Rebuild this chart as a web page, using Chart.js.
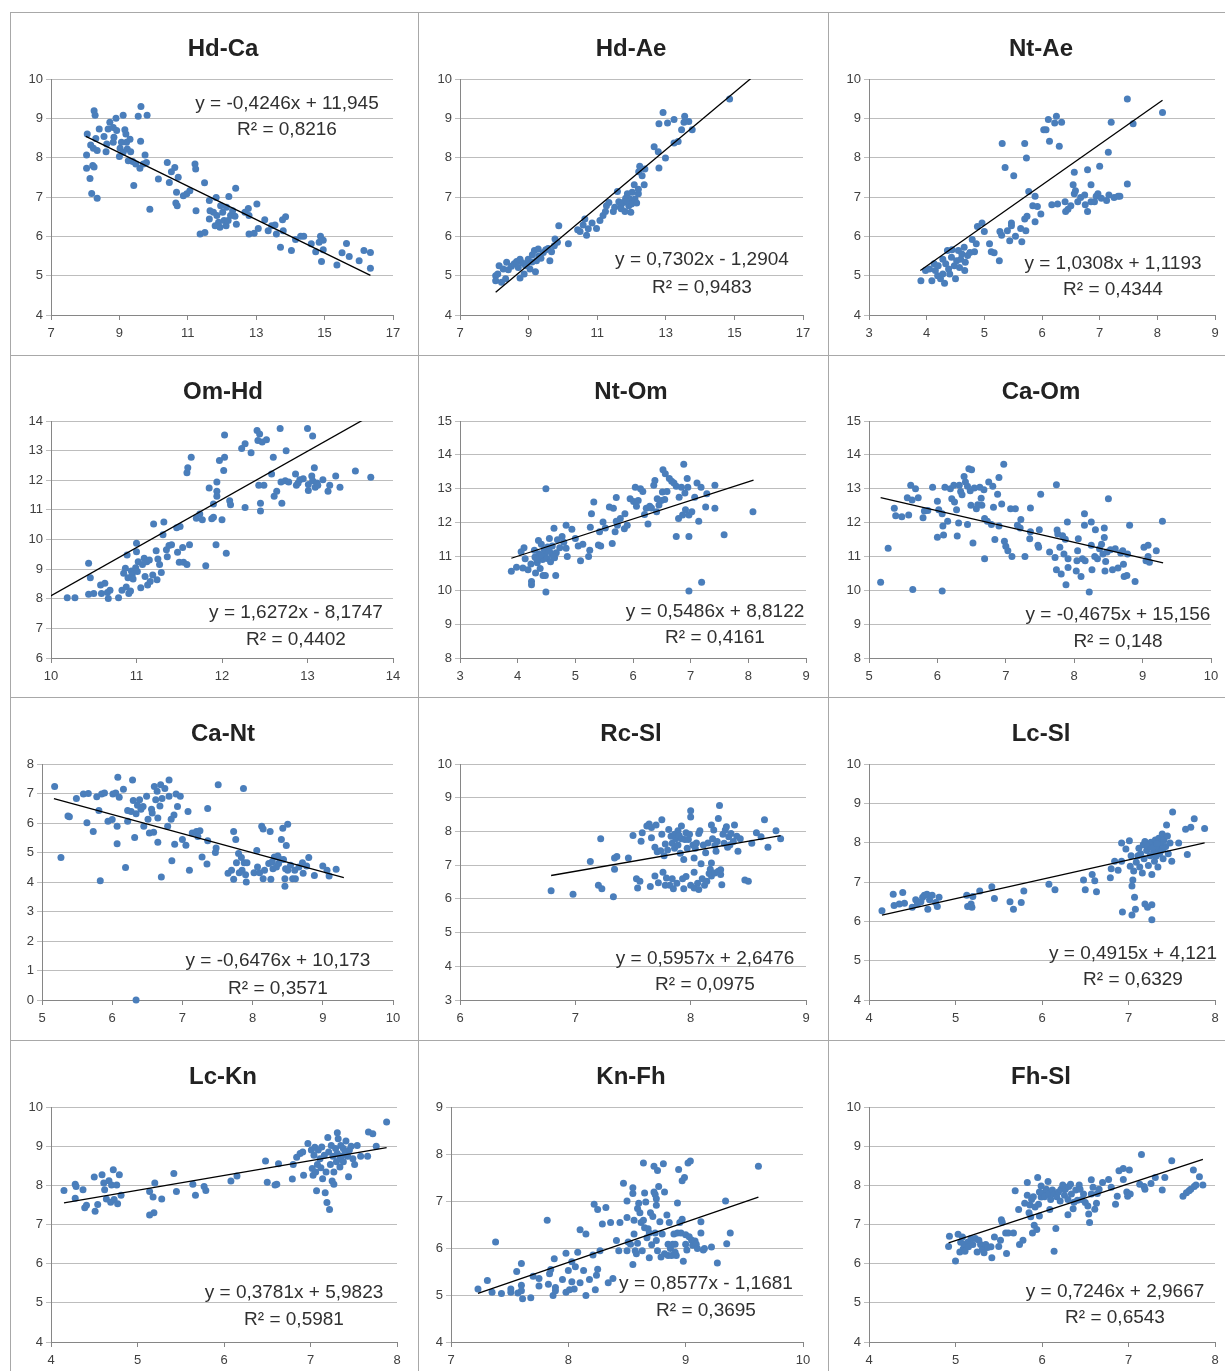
<!DOCTYPE html>
<html>
<head>
<meta charset="utf-8">
<script src="https://cdn.jsdelivr.net/npm/chart.js@4.4.1/dist/chart.umd.min.js"></script>
<style>
  body { margin: 0; background: #fff; width: 1225px; height: 1371px; overflow: hidden; position: relative; }
  canvas { position: absolute; }
  .ln { position: absolute; background: #a8a8a8; }
</style>
</head>
<body>
<script>
// ---- data: [x, y] pairs per panel ----
const hdCa = [[8.26,9.19],[8.29,9.08],[8.06,8.60],[8.04,8.07],[8.04,7.73],[8.14,7.47],[8.22,7.80],[8.26,7.76],[8.19,7.09],[8.35,6.97],[8.16,8.32],[8.24,8.24],[8.35,8.18],[8.31,8.49],[8.41,8.73],[8.55,8.54],[8.63,8.35],[8.61,8.15],[8.67,8.73],[8.72,8.90],[8.82,8.77],[8.90,9.00],[8.84,8.52],[8.82,8.39],[8.92,8.69],[9.02,8.24],[9.00,8.03],[9.11,9.08],[9.16,8.71],[9.19,8.60],[9.21,8.39],[9.23,8.22],[9.26,7.92],[9.31,8.47],[9.33,8.15],[9.39,7.90],[9.42,7.29],[9.55,9.05],[9.63,9.30],[9.62,8.42],[9.60,7.73],[9.70,7.84],[9.75,8.07],[9.79,7.88],[9.81,9.08],[9.89,6.69],[9.11,8.14],[9.06,8.39],[9.48,7.84],[10.14,7.46],[10.40,7.88],[10.46,7.37],[10.52,7.64],[10.62,7.75],[10.72,7.50],[10.67,7.12],[10.65,6.85],[10.69,6.78],[10.87,7.03],[10.97,7.08],[11.06,7.16],[11.21,7.84],[11.23,7.71],[11.24,6.65],[11.36,6.06],[11.50,6.10],[11.49,7.36],[11.63,6.91],[11.65,6.65],[11.63,6.44],[11.75,6.61],[11.83,6.99],[11.85,6.53],[11.90,6.36],[11.96,6.78],[12.02,6.61],[12.06,6.40],[12.12,6.27],[12.13,6.74],[12.20,7.01],[12.25,6.53],[12.31,6.65],[12.38,6.51],[12.40,7.22],[12.42,6.31],[11.80,6.27],[11.94,6.23],[12.18,6.40],[12.67,6.61],[12.77,6.71],[12.79,6.53],[12.79,6.06],[12.94,6.08],[13.02,6.82],[13.06,6.20],[13.25,6.42],[13.35,6.14],[13.45,6.27],[13.55,6.29],[13.59,6.06],[13.71,5.72],[13.77,6.42],[13.86,6.50],[13.79,6.14],[14.03,5.64],[14.15,5.92],[14.30,6.00],[14.39,6.00],[14.61,5.81],[14.74,5.61],[14.88,6.00],[14.84,5.85],[14.91,5.36],[14.96,5.90],[14.96,5.66],[15.36,5.27],[15.51,5.58],[15.64,5.82],[15.72,5.49],[16.01,5.38],[16.15,5.64],[16.34,5.59],[16.34,5.19]];

const hdAe = [[8.04,5.00],[8.04,4.87],[8.10,5.04],[8.14,5.25],[8.21,4.83],[8.26,5.17],[8.33,4.92],[8.36,5.34],[8.41,5.15],[8.50,5.24],[8.58,5.30],[8.65,5.36],[8.70,5.21],[8.75,5.42],[8.75,4.94],[8.82,5.32],[8.87,5.04],[8.91,5.25],[8.99,5.42],[9.04,5.17],[9.11,5.53],[9.17,5.64],[9.20,5.10],[9.23,5.38],[9.28,5.68],[9.36,5.44],[9.43,5.59],[9.50,5.66],[9.57,5.69],[9.62,5.38],[9.67,5.61],[9.75,5.76],[9.77,5.93],[9.84,5.85],[9.88,6.27],[10.16,5.81],[10.43,6.17],[10.50,6.12],[10.59,6.29],[10.64,6.44],[10.69,6.03],[10.74,6.19],[10.85,6.34],[10.98,6.20],[11.08,6.40],[11.17,6.53],[11.24,6.63],[11.27,6.78],[11.34,6.86],[11.47,6.63],[11.51,6.74],[11.59,7.14],[11.63,6.88],[11.69,6.78],[11.76,6.86],[11.81,6.63],[11.83,6.97],[11.88,7.08],[11.92,6.78],[11.95,6.95],[12.00,6.82],[12.02,7.12],[12.08,7.31],[12.10,6.95],[12.15,6.85],[12.20,7.08],[12.21,7.64],[12.24,7.78],[12.31,7.54],[12.37,7.31],[12.39,7.71],[12.66,8.28],[12.78,8.15],[12.80,8.86],[12.80,7.74],[12.92,9.15],[12.99,7.99],[13.05,8.88],[13.24,8.97],[13.24,8.37],[13.36,8.41],[13.46,8.71],[13.55,9.05],[13.53,8.90],[13.67,8.92],[13.77,8.71],[14.86,9.49],[11.98,6.61],[12.20,7.20],[9.30,5.50],[9.10,5.35],[8.95,5.30],[11.70,6.70],[11.85,6.90]];

const ntAe = [[3.90,4.87],[3.98,5.13],[4.05,5.17],[4.09,4.87],[4.13,5.30],[4.15,5.13],[4.19,5.00],[4.20,5.25],[4.24,4.92],[4.28,5.42],[4.28,5.04],[4.31,4.81],[4.33,5.30],[4.36,5.64],[4.38,5.17],[4.40,5.04],[4.43,5.47],[4.44,5.66],[4.48,5.25],[4.50,4.92],[4.52,5.38],[4.55,5.64],[4.57,5.21],[4.59,5.42],[4.61,5.55],[4.65,5.72],[4.66,5.13],[4.67,5.34],[4.71,5.51],[4.75,5.59],[4.79,5.92],[4.83,5.61],[4.86,5.81],[4.88,6.25],[4.96,6.34],[5.00,6.12],[5.09,5.81],[5.12,5.61],[5.17,5.58],[5.26,5.38],[5.27,6.12],[5.30,6.03],[5.31,8.36],[5.36,7.75],[5.40,6.14],[5.44,5.89],[5.47,6.34],[5.47,6.27],[5.51,7.54],[5.54,6.00],[5.63,6.20],[5.65,5.86],[5.70,6.44],[5.70,8.36],[5.72,6.14],[5.73,7.99],[5.74,6.51],[5.77,7.14],[5.84,6.78],[5.88,7.02],[5.88,6.37],[5.92,6.76],[5.98,6.57],[6.03,8.71],[6.07,8.71],[6.11,8.97],[6.13,8.42],[6.17,6.80],[6.22,8.88],[6.25,9.05],[6.27,6.82],[6.30,8.29],[6.34,8.90],[6.40,6.88],[6.41,6.63],[6.45,6.69],[6.50,6.78],[6.54,7.31],[6.56,7.63],[6.56,7.08],[6.58,7.16],[6.62,6.88],[6.67,6.99],[6.74,7.05],[6.75,6.80],[6.79,7.69],[6.79,6.63],[6.85,6.88],[6.85,7.31],[6.91,6.88],[6.94,7.02],[6.97,7.08],[7.00,7.78],[7.03,6.97],[7.12,6.91],[7.15,8.14],[7.16,7.05],[7.20,8.90],[7.25,6.99],[7.32,7.02],[7.35,7.02],[7.48,9.49],[7.48,7.33],[7.58,8.86],[8.09,9.15]];

const omHd = [[10.19,8.03],[10.28,8.03],[10.44,9.20],[10.46,8.71],[10.44,8.15],[10.50,8.18],[10.58,8.46],[10.63,8.52],[10.59,8.18],[10.66,8.21],[10.67,8.01],[10.69,8.29],[10.79,8.03],[10.83,8.29],[10.85,8.86],[10.87,9.03],[10.88,8.40],[10.89,9.48],[10.90,8.71],[10.91,8.18],[10.93,8.26],[10.94,8.94],[10.95,8.81],[10.96,8.67],[10.99,9.05],[11.00,9.59],[11.00,9.87],[11.01,8.92],[11.02,9.25],[11.05,8.37],[11.07,9.16],[11.09,9.37],[11.10,8.75],[11.12,9.25],[11.13,8.46],[11.15,9.31],[11.16,8.58],[11.19,8.80],[11.20,10.52],[11.23,9.62],[11.24,8.64],[11.25,9.34],[11.27,9.16],[11.29,8.89],[11.31,10.16],[11.32,10.59],[11.35,9.65],[11.36,9.42],[11.38,9.80],[11.41,9.82],[11.47,10.40],[11.48,9.57],[11.50,9.23],[11.51,10.44],[11.54,9.73],[11.55,9.23],[11.59,12.25],[11.59,9.16],[11.60,12.42],[11.62,9.82],[11.64,12.78],[11.70,10.72],[11.74,10.86],[11.77,10.67],[11.81,9.11],[11.85,11.74],[11.88,10.70],[11.90,10.75],[11.90,11.20],[11.93,9.82],[11.94,11.94],[11.94,11.63],[11.94,11.46],[11.97,12.67],[12.00,10.67],[12.02,12.33],[12.03,13.53],[12.03,12.78],[12.05,9.54],[12.09,11.31],[12.10,11.17],[12.23,13.07],[12.27,13.23],[12.27,11.08],[12.34,12.93],[12.41,13.68],[12.42,13.34],[12.44,13.56],[12.45,11.22],[12.45,10.96],[12.43,11.83],[12.47,13.29],[12.49,11.83],[12.52,13.37],[12.58,12.21],[12.60,12.78],[12.61,11.46],[12.64,11.63],[12.68,13.75],[12.69,11.94],[12.70,11.22],[12.74,11.98],[12.75,13.00],[12.78,11.94],[12.86,12.21],[12.87,11.83],[12.89,11.91],[12.91,12.02],[12.95,12.05],[13.00,13.75],[13.01,11.86],[13.01,11.65],[13.05,12.14],[13.06,13.49],[13.06,11.98],[13.08,12.42],[13.09,11.76],[13.11,11.91],[13.12,11.83],[13.18,12.02],[13.24,11.63],[13.26,11.83],[13.33,12.14],[13.38,11.76],[13.56,12.31],[13.74,12.10]];

const ntOm = [[3.89,10.56],[3.98,10.68],[4.06,11.14],[4.11,11.26],[4.09,10.66],[4.13,10.93],[4.18,10.61],[4.23,10.78],[4.24,10.26],[4.24,10.16],[4.29,11.18],[4.30,10.98],[4.31,10.51],[4.34,10.81],[4.36,11.47],[4.37,11.08],[4.39,10.64],[4.41,11.36],[4.43,10.91],[4.44,10.44],[4.46,11.21],[4.47,11.08],[4.48,10.44],[4.49,13.00],[4.49,9.95],[4.51,10.94],[4.52,11.28],[4.55,11.53],[4.57,10.84],[4.59,11.08],[4.60,11.31],[4.63,11.83],[4.64,10.96],[4.66,10.44],[4.67,11.11],[4.69,11.49],[4.73,11.26],[4.77,11.59],[4.80,11.42],[4.84,11.92],[4.84,11.24],[4.86,11.00],[4.94,11.80],[5.00,11.53],[5.05,11.31],[5.09,10.87],[5.13,11.36],[5.23,11.00],[5.25,11.18],[5.26,11.86],[5.28,12.26],[5.32,12.61],[5.40,11.34],[5.42,11.73],[5.44,11.31],[5.48,12.02],[5.52,11.84],[5.59,12.46],[5.64,11.38],[5.66,12.42],[5.69,11.73],[5.71,12.04],[5.71,12.74],[5.73,11.92],[5.78,12.12],[5.85,11.82],[5.86,12.26],[5.90,11.92],[5.95,12.70],[6.01,12.62],[6.04,13.04],[6.06,12.48],[6.09,12.65],[6.13,13.00],[6.17,12.92],[6.20,12.24],[6.23,12.42],[6.26,11.96],[6.29,12.48],[6.32,12.43],[6.36,13.10],[6.38,13.24],[6.41,12.32],[6.42,12.70],[6.45,12.52],[6.49,12.65],[6.51,12.90],[6.52,13.56],[6.55,12.68],[6.56,13.44],[6.59,12.92],[6.63,13.30],[6.67,13.22],[6.71,13.17],[6.75,13.07],[6.75,11.59],[6.79,12.12],[6.80,12.75],[6.84,13.04],[6.86,12.22],[6.88,13.72],[6.90,12.87],[6.91,12.38],[6.94,13.30],[6.95,13.04],[6.97,12.22],[6.97,9.98],[6.97,11.59],[7.02,12.32],[7.07,12.75],[7.11,13.17],[7.14,12.04],[7.18,13.04],[7.19,10.24],[7.26,12.46],[7.28,12.85],[7.42,13.10],[7.42,12.42],[7.58,11.64],[8.08,12.32],[4.40,11.05],[4.55,11.15],[4.62,11.00],[4.33,10.92]];

const caOm = [[5.17,10.24],[5.28,11.24],[5.37,12.42],[5.39,12.20],[5.48,12.17],[5.56,12.73],[5.58,12.22],[5.61,13.10],[5.63,12.67],[5.64,10.02],[5.68,13.00],[5.72,12.73],[5.79,12.14],[5.81,12.34],[5.86,12.36],[5.93,13.04],[6.00,12.63],[6.00,11.57],[6.02,12.38],[6.07,12.26],[6.07,9.98],[6.08,11.90],[6.09,11.63],[6.11,13.04],[6.15,12.04],[6.19,13.00],[6.21,12.70],[6.24,13.10],[6.25,12.61],[6.28,12.38],[6.29,11.60],[6.31,11.99],[6.32,13.10],[6.34,12.92],[6.36,12.82],[6.39,13.36],[6.41,13.20],[6.44,13.07],[6.44,11.94],[6.46,13.59],[6.48,12.94],[6.50,13.56],[6.49,12.51],[6.52,11.40],[6.54,13.02],[6.57,12.41],[6.59,12.53],[6.62,13.04],[6.64,12.72],[6.65,12.51],[6.68,12.97],[6.69,12.12],[6.69,10.93],[6.73,12.04],[6.75,13.20],[6.79,11.94],[6.81,13.07],[6.82,12.45],[6.84,11.50],[6.88,12.84],[6.90,13.33],[6.90,11.90],[6.94,12.55],[6.97,13.72],[6.98,11.45],[7.00,11.30],[7.03,11.17],[7.07,12.41],[7.09,11.00],[7.14,12.41],[7.17,11.92],[7.21,11.84],[7.22,12.09],[7.28,11.00],[7.35,11.52],[7.36,12.43],[7.36,11.73],[7.47,11.33],[7.48,11.27],[7.49,11.79],[7.51,12.84],[7.64,11.13],[7.72,10.97],[7.74,13.12],[7.74,10.61],[7.75,11.78],[7.76,11.66],[7.79,11.27],[7.81,10.48],[7.83,11.61],[7.85,11.07],[7.87,11.51],[7.88,10.16],[7.90,12.02],[7.91,10.93],[7.91,10.67],[8.03,10.57],[8.04,10.87],[8.05,11.17],[8.06,11.52],[8.10,10.41],[8.12,10.93],[8.15,12.26],[8.15,11.92],[8.16,10.87],[8.22,9.95],[8.25,12.02],[8.25,11.33],[8.26,10.61],[8.30,11.00],[8.31,11.79],[8.34,10.93],[8.37,11.23],[8.40,11.36],[8.42,11.07],[8.44,11.84],[8.44,11.56],[8.45,10.57],[8.46,10.85],[8.48,11.13],[8.50,12.70],[8.53,11.20],[8.56,10.61],[8.60,11.23],[8.64,10.66],[8.68,11.10],[8.71,11.17],[8.72,10.77],[8.73,10.41],[8.77,10.44],[8.78,11.07],[8.81,11.92],[8.89,10.26],[9.02,11.27],[9.05,10.87],[9.08,11.33],[9.08,11.00],[9.10,10.83],[9.20,11.17],[9.29,12.04]];

const caNt = [[5.18,7.24],[5.27,4.83],[5.37,6.24],[5.39,6.21],[5.49,6.83],[5.59,6.98],[5.64,6.01],[5.66,7.00],[5.73,5.71],[5.78,6.89],[5.81,6.42],[5.83,4.04],[5.85,6.98],[5.89,7.02],[5.94,6.06],[6.00,6.12],[6.01,6.98],[6.05,7.02],[6.07,5.89],[6.07,5.30],[6.08,7.55],[6.10,6.87],[6.16,7.14],[6.19,4.49],[6.22,6.06],[6.22,6.42],[6.27,6.39],[6.29,7.46],[6.30,6.76],[6.32,5.51],[6.34,0.00],[6.34,6.31],[6.36,6.60],[6.39,6.79],[6.41,6.47],[6.44,6.56],[6.45,5.89],[6.49,6.91],[6.51,6.13],[6.53,5.66],[6.56,6.47],[6.57,6.34],[6.59,5.69],[6.60,7.24],[6.62,6.79],[6.64,7.08],[6.65,5.35],[6.65,6.17],[6.68,6.58],[6.69,7.30],[6.70,4.17],[6.71,6.83],[6.75,7.17],[6.79,5.89],[6.81,7.46],[6.81,6.91],[6.84,6.13],[6.85,4.72],[6.88,6.27],[6.89,5.28],[6.91,6.98],[6.93,6.56],[6.97,6.91],[7.00,5.44],[7.05,5.25],[7.08,6.39],[7.10,4.40],[7.14,5.66],[7.20,5.71],[7.22,5.54],[7.25,5.74],[7.28,4.85],[7.35,4.61],[7.36,6.49],[7.36,5.40],[7.47,5.00],[7.48,5.15],[7.51,7.30],[7.65,4.30],[7.70,4.40],[7.73,4.09],[7.73,5.71],[7.76,5.44],[7.77,4.65],[7.80,4.97],[7.81,4.31],[7.84,4.83],[7.85,4.40],[7.87,7.17],[7.88,4.65],[7.90,4.25],[7.91,4.00],[7.92,4.65],[8.02,4.31],[8.06,5.07],[8.07,4.51],[8.10,4.31],[8.13,5.89],[8.15,5.80],[8.15,4.11],[8.17,4.40],[8.23,4.63],[8.25,5.71],[8.26,4.09],[8.28,4.69],[8.29,4.45],[8.31,4.85],[8.34,4.51],[8.36,4.88],[8.37,4.63],[8.39,4.76],[8.41,5.44],[8.43,5.82],[8.44,4.76],[8.46,4.11],[8.46,3.86],[8.47,4.45],[8.48,5.24],[8.50,5.96],[8.50,4.40],[8.54,4.57],[8.57,4.11],[8.60,4.40],[8.61,4.11],[8.66,4.51],[8.71,4.65],[8.72,4.30],[8.77,4.54],[8.80,4.83],[8.88,4.22],[9.00,4.54],[9.06,4.40],[9.09,4.20],[9.19,4.43]];

const rcSl = [[6.79,6.24],[6.98,6.14],[7.13,7.11],[7.20,6.40],[7.22,7.78],[7.23,6.30],[7.33,6.06],[7.34,6.88],[7.34,7.21],[7.36,7.26],[7.46,7.21],[7.50,7.88],[7.53,6.60],[7.54,6.32],[7.56,6.52],[7.57,7.71],[7.58,7.96],[7.62,8.16],[7.64,8.22],[7.65,6.37],[7.66,7.81],[7.66,8.12],[7.69,6.68],[7.69,7.53],[7.70,8.19],[7.71,7.40],[7.72,6.48],[7.74,7.43],[7.75,7.92],[7.75,8.35],[7.76,6.79],[7.77,7.28],[7.78,6.40],[7.78,7.63],[7.79,6.62],[7.80,7.45],[7.81,8.06],[7.82,6.40],[7.83,7.86],[7.84,6.60],[7.84,7.65],[7.85,6.30],[7.86,7.92],[7.86,7.50],[7.87,7.78],[7.88,6.46],[7.89,8.02],[7.89,7.60],[7.90,7.88],[7.91,7.35],[7.92,7.78],[7.92,8.16],[7.93,6.60],[7.94,6.30],[7.94,7.17],[7.95,7.76],[7.96,7.96],[7.96,6.66],[7.97,7.50],[7.98,7.76],[7.99,7.92],[8.00,8.43],[8.00,8.61],[8.00,6.40],[8.02,7.60],[8.03,7.21],[8.03,6.79],[8.03,6.32],[8.04,7.50],[8.05,7.66],[8.06,6.46],[8.07,7.94],[8.07,6.28],[8.08,8.02],[8.09,7.04],[8.10,6.60],[8.11,7.60],[8.12,6.40],[8.13,7.37],[8.14,6.52],[8.15,7.66],[8.16,6.75],[8.17,6.88],[8.18,8.19],[8.18,7.06],[8.18,6.68],[8.19,7.78],[8.20,8.04],[8.21,6.77],[8.21,7.58],[8.22,7.41],[8.23,7.70],[8.24,6.82],[8.24,8.38],[8.25,8.77],[8.26,6.72],[8.26,6.86],[8.27,6.42],[8.28,7.92],[8.29,7.65],[8.30,8.04],[8.31,8.14],[8.32,7.53],[8.33,7.84],[8.34,7.60],[8.35,7.94],[8.37,7.70],[8.38,8.19],[8.40,7.86],[8.41,7.41],[8.43,7.78],[8.47,6.56],[8.50,6.52],[8.53,7.65],[8.57,7.96],[8.61,7.84],[8.64,8.35],[8.67,7.53],[8.74,8.02],[8.78,7.78]];

const lcSl = [[4.15,6.27],[4.28,6.69],[4.29,6.40],[4.35,6.44],[4.39,6.73],[4.41,6.46],[4.50,6.36],[4.54,6.55],[4.56,6.44],[4.60,6.50],[4.62,6.61],[4.64,6.66],[4.67,6.69],[4.68,6.31],[4.70,6.55],[4.73,6.66],[4.77,6.48],[4.79,6.38],[4.81,6.61],[5.13,6.66],[5.14,6.38],[5.18,6.44],[5.19,6.36],[5.20,6.63],[5.28,6.77],[5.42,6.88],[5.45,6.58],[5.63,6.50],[5.67,6.31],[5.76,6.48],[5.79,6.77],[6.08,6.94],[6.15,6.80],[6.48,7.05],[6.50,6.80],[6.58,7.19],[6.61,7.03],[6.63,6.75],[6.79,7.11],[6.80,7.34],[6.84,7.53],[6.88,7.30],[6.92,7.53],[6.92,7.99],[6.93,6.24],[6.97,7.84],[7.01,8.05],[7.02,7.40],[7.03,7.67],[7.04,6.16],[7.04,6.90],[7.05,7.05],[7.06,7.28],[7.07,6.61],[7.08,6.31],[7.09,7.50],[7.11,7.67],[7.12,7.86],[7.13,7.38],[7.14,7.72],[7.16,7.23],[7.17,7.95],[7.18,7.59],[7.19,6.44],[7.19,8.03],[7.21,7.80],[7.22,6.36],[7.23,7.42],[7.24,7.91],[7.25,7.67],[7.26,8.01],[7.27,7.19],[7.27,6.04],[7.27,6.42],[7.29,7.78],[7.30,7.53],[7.31,8.07],[7.31,7.92],[7.32,7.66],[7.34,7.86],[7.34,7.38],[7.35,8.11],[7.36,7.72],[7.38,7.99],[7.38,7.81],[7.39,8.22],[7.40,7.59],[7.41,8.07],[7.43,7.90],[7.44,8.45],[7.45,8.17],[7.46,7.72],[7.48,7.99],[7.50,7.53],[7.51,8.78],[7.58,7.99],[7.66,8.34],[7.68,7.70],[7.72,8.39],[7.76,8.61],[7.88,8.36],[7.20,7.95],[7.28,7.88],[7.33,7.98],[7.40,7.85]];

const lcKn = [[4.15,7.87],[4.28,8.03],[4.29,7.97],[4.28,7.67],[4.37,7.89],[4.39,7.43],[4.41,7.49],[4.50,8.21],[4.51,7.34],[4.54,7.51],[4.59,8.27],[4.61,8.06],[4.62,7.89],[4.64,7.65],[4.67,8.12],[4.69,7.57],[4.70,8.01],[4.72,8.40],[4.73,7.64],[4.76,8.01],[4.77,7.53],[4.79,8.27],[4.81,7.75],[5.14,7.84],[5.14,7.24],[5.18,7.70],[5.19,7.30],[5.20,8.06],[5.28,7.65],[5.42,8.30],[5.45,7.84],[5.64,8.03],[5.67,7.75],[5.77,7.97],[5.79,7.87],[6.08,8.11],[6.15,8.24],[6.48,8.62],[6.50,8.08],[6.59,8.01],[6.61,8.03],[6.63,8.55],[6.79,8.16],[6.80,8.53],[6.84,8.72],[6.88,8.81],[6.92,8.26],[6.91,8.85],[6.97,9.07],[7.01,8.90],[7.02,8.43],[7.03,8.26],[7.04,8.77],[7.05,8.97],[7.06,8.34],[7.07,7.86],[7.08,8.53],[7.09,8.90],[7.11,8.68],[7.12,8.45],[7.13,8.98],[7.14,8.17],[7.16,8.77],[7.17,7.81],[7.18,8.34],[7.19,7.56],[7.20,9.22],[7.21,8.85],[7.22,7.38],[7.23,8.53],[7.24,9.02],[7.25,8.11],[7.26,8.74],[7.27,8.34],[7.27,8.03],[7.29,8.94],[7.30,8.60],[7.31,9.34],[7.31,8.81],[7.32,9.19],[7.34,8.68],[7.34,8.47],[7.35,9.02],[7.36,8.74],[7.38,8.94],[7.38,8.60],[7.40,8.85],[7.41,9.13],[7.43,8.74],[7.44,8.22],[7.45,8.90],[7.47,9.00],[7.49,8.68],[7.51,8.53],[7.54,9.02],[7.58,8.74],[7.66,8.74],[7.67,9.36],[7.72,9.32],[7.76,9.00],[7.88,9.62]];

const knFh = [[7.23,5.13],[7.31,5.31],[7.35,5.06],[7.38,6.13],[7.43,5.03],[7.51,5.13],[7.51,5.06],[7.56,5.50],[7.57,5.04],[7.60,5.21],[7.60,5.67],[7.61,4.92],[7.60,5.09],[7.68,4.94],[7.70,5.40],[7.75,5.35],[7.75,5.19],[7.82,6.59],[7.83,5.23],[7.84,5.45],[7.85,5.54],[7.87,4.99],[7.88,5.77],[7.89,5.09],[7.89,5.16],[7.95,5.33],[7.98,5.89],[7.98,5.06],[8.00,5.52],[8.01,5.11],[8.03,5.71],[8.03,5.28],[8.05,5.13],[8.06,5.60],[8.08,5.91],[8.10,6.39],[8.10,5.26],[8.13,5.52],[8.15,4.99],[8.15,6.30],[8.18,5.33],[8.21,5.85],[8.22,6.93],[8.23,5.11],[8.24,5.42],[8.25,6.82],[8.25,5.55],[8.27,5.94],[8.29,6.51],[8.32,6.86],[8.34,5.26],[8.36,6.54],[8.38,5.35],[8.41,6.16],[8.43,5.94],[8.44,6.54],[8.47,7.38],[8.50,5.94],[8.50,7.00],[8.50,6.65],[8.51,6.13],[8.53,6.08],[8.55,7.28],[8.55,7.16],[8.55,5.65],[8.56,6.59],[8.56,6.30],[8.57,5.94],[8.58,5.88],[8.59,6.84],[8.59,6.10],[8.60,6.95],[8.61,6.75],[8.62,6.54],[8.63,5.94],[8.64,7.81],[8.64,6.59],[8.65,7.17],[8.65,6.43],[8.66,6.98],[8.67,6.22],[8.68,6.41],[8.69,6.32],[8.69,5.79],[8.70,6.75],[8.71,6.07],[8.72,6.67],[8.73,7.74],[8.73,7.19],[8.74,7.14],[8.74,6.32],[8.75,6.91],[8.75,7.05],[8.75,6.16],[8.76,5.94],[8.76,7.65],[8.77,7.31],[8.78,6.56],[8.79,5.81],[8.80,6.30],[8.81,7.79],[8.82,7.19],[8.82,5.88],[8.84,6.70],[8.85,6.08],[8.85,5.84],[8.86,6.54],[8.87,5.99],[8.88,5.84],[8.89,6.08],[8.90,6.30],[8.91,5.91],[8.91,6.08],[8.92,5.84],[8.93,6.32],[8.93,6.96],[8.94,7.67],[8.95,6.54],[8.96,6.32],[8.97,7.43],[8.97,6.61],[8.98,5.72],[8.99,7.50],[9.00,6.28],[9.00,6.08],[9.01,5.96],[9.02,7.81],[9.03,6.24],[9.04,7.85],[9.05,6.17],[9.06,6.06],[9.08,6.15],[9.09,6.08],[9.10,5.99],[9.13,6.56],[9.13,6.32],[9.15,5.96],[9.16,5.99],[9.22,6.02],[9.27,5.68],[9.34,7.00],[9.35,6.09],[9.38,6.32],[9.62,7.74]];

const fhSl = [[4.92,6.44],[4.93,6.70],[5.00,6.07],[5.03,6.75],[5.05,6.30],[5.06,6.55],[5.08,6.68],[5.09,6.38],[5.10,6.49],[5.11,6.32],[5.14,6.55],[5.15,6.43],[5.18,6.64],[5.20,6.49],[5.23,6.64],[5.25,6.30],[5.27,6.60],[5.29,6.49],[5.31,6.36],[5.33,6.28],[5.35,6.49],[5.37,6.41],[5.41,6.43],[5.42,6.15],[5.45,6.68],[5.50,6.44],[5.52,6.60],[5.53,7.12],[5.54,7.06],[5.58,6.78],[5.59,6.26],[5.61,6.78],[5.67,6.78],[5.69,7.86],[5.73,7.38],[5.74,6.49],[5.78,6.60],[5.80,7.54],[5.83,8.07],[5.83,7.75],[5.85,7.30],[5.86,7.50],[5.87,7.20],[5.88,7.64],[5.89,6.78],[5.90,7.71],[5.91,6.98],[5.92,7.45],[5.94,6.87],[5.95,8.20],[5.96,7.52],[5.97,7.83],[5.97,7.22],[5.99,7.98],[5.99,7.70],[6.01,7.80],[6.03,7.71],[6.05,7.90],[6.07,8.10],[6.08,7.78],[6.09,7.38],[6.10,7.64],[6.12,7.88],[6.14,6.32],[6.14,7.78],[6.16,6.90],[6.17,7.71],[6.19,7.83],[6.21,7.60],[6.22,7.90],[6.24,8.01],[6.26,7.75],[6.27,7.90],[6.30,7.25],[6.30,7.64],[6.31,7.97],[6.33,8.03],[6.34,7.78],[6.36,7.40],[6.37,7.57],[6.39,7.88],[6.41,7.62],[6.43,8.01],[6.44,7.90],[6.46,7.64],[6.48,7.78],[6.50,7.56],[6.53,7.47],[6.54,7.27],[6.55,7.05],[6.57,8.14],[6.57,7.78],[6.59,7.95],[6.61,7.39],[6.63,7.54],[6.64,7.79],[6.66,7.90],[6.70,8.07],[6.77,8.15],[6.80,7.95],[6.85,7.52],[6.87,7.72],[6.89,8.37],[6.94,8.43],[6.94,8.15],[6.98,7.83],[6.99,7.72],[7.01,8.39],[7.02,7.78],[7.13,8.03],[7.15,8.79],[7.18,7.97],[7.19,7.90],[7.26,8.05],[7.31,8.20],[7.39,7.88],[7.42,8.20],[7.50,8.63],[7.63,7.72],[7.67,7.81],[7.70,7.86],[7.72,7.90],[7.75,8.39],[7.76,7.97],[7.78,8.01],[7.82,8.22],[7.86,8.01]];

const panels = [hdCa, hdAe, ntAe, omHd, ntOm, caOm, caNt, rcSl, lcSl, lcKn, knFh, fhSl];
const titles = ['Hd-Ca', 'Hd-Ae', 'Nt-Ae', 'Om-Hd', 'Nt-Om', 'Ca-Om', 'Ca-Nt', 'Rc-Sl', 'Lc-Sl', 'Lc-Kn', 'Kn-Fh', 'Fh-Sl'];
const slopes = [-0.4246, 0.7302, 1.0308, 1.6272, 0.5486, -0.4675, -0.6476, 0.5957, 0.4915, 0.3781, 0.8577, 0.7246];
const intercepts = [11.945, -1.2904, 1.1193, -8.1747, 8.8122, 15.156, 10.173, 2.6476, 4.121, 5.9823, -1.1681, 2.9667];
const eqTexts = ['y = -0,4246x + 11,945', 'y = 0,7302x - 1,2904', 'y = 1,0308x + 1,1193', 'y = 1,6272x - 8,1747',
  'y = 0,5486x + 8,8122', 'y = -0,4675x + 15,156', 'y = -0,6476x + 10,173', 'y = 0,5957x + 2,6476',
  'y = 0,4915x + 4,121', 'y = 0,3781x + 5,9823', 'y = 0,8577x - 1,1681', 'y = 0,7246x + 2,9667'];
const r2Texts = ['R² = 0,8216', 'R² = 0,9483', 'R² = 0,4344', 'R² = 0,4402', 'R² = 0,4161', 'R² = 0,148',
  'R² = 0,3571', 'R² = 0,0975', 'R² = 0,6329', 'R² = 0,5981', 'R² = 0,3695', 'R² = 0,6543'];
const trendFrom = [8.02, 8.04, 3.89, 9.8, 3.89, 5.17, 5.17, 6.79, 4.15, 4.15, 7.23, 4.92];
const trendTo = [16.34, 16.34, 8.09, 13.74, 8.09, 9.30, 9.30, 8.78, 7.88, 7.88, 9.62, 7.86];
const xMin = [7, 7, 3, 10, 3, 5, 5, 6, 4, 4, 7, 4];
const xMax = [17, 17, 9, 14, 9, 10, 10, 9, 8, 8, 10, 8];
const xStep = [2, 2, 1, 1, 1, 1, 1, 1, 1, 1, 1, 1];
const yMin = [4, 4, 4, 6, 8, 8, 0, 3, 4, 4, 4, 4];
const yMax = [10, 10, 10, 14, 15, 15, 8, 10, 10, 10, 9, 10];

// ---- layout (pixels) ----
const colX = [10, 418, 828], colW = [408, 410, 397];
const rowY = [12, 355, 697, 1040], cellH = 343;
const plotL = [41, 42, 41, 41, 42, 41, 32, 42, 41, 41, 33, 41];
const plotR = [383, 385, 387, 383, 388, 383, 383, 388, 387, 387, 385, 387];
const plotT = [67, 67, 67, 66, 66, 66, 67, 67, 67, 67, 67, 67];
const plotB = [303, 303, 303, 303, 303, 303, 303, 303, 303, 302, 302, 302];
const eqPos = [[277, 92, 118], [284, 248, 276], [285, 252, 278], [286, 258, 285], [297, 257, 283], [290, 260, 287],
  [268, 264, 292], [287, 262, 288], [305, 257, 283], [284, 253, 280], [288, 244, 271], [287, 252, 278]];

const FONT = '"Liberation Sans", Arial, sans-serif';
const AXIS = '#868686', GRID = '#bdbdbd', TXT = '#404040', DOT = '#4a7ebb';

// grid lines between panels
function line(x, y, w, h) {
  const d = document.createElement('div');
  d.className = 'ln';
  Object.assign(d.style, { left: x + 'px', top: y + 'px', width: w + 'px', height: h + 'px' });
  document.body.appendChild(d);
}

const panelText = {
  id: 'panelText',
  afterDraw(chart, args, o) {
    const ctx = chart.ctx;
    ctx.save();
    ctx.textAlign = 'center';
    ctx.textBaseline = 'middle';
    ctx.fillStyle = '#222';
    ctx.font = 'bold 24px ' + FONT;
    ctx.fillText(o.title, 213, 37);
    ctx.fillStyle = '#303030';
    ctx.font = '19px ' + FONT;
    ctx.fillText(o.eq, o.pos[0], o.pos[1]);
    ctx.fillText(o.r2, o.pos[0], o.pos[2]);
    ctx.restore();
  }
};

panels.forEach((pts, i) => {
  const col = i % 3, row = Math.floor(i / 3);
  const cv = document.createElement('canvas');
  cv.width = colW[col];
  cv.height = cellH;
  cv.style.left = colX[col] + 'px';
  cv.style.top = rowY[row] + 'px';
  document.body.appendChild(cv);

  const trend = [trendFrom[i], trendTo[i]].map(x => ({ x: x, y: slopes[i] * x + intercepts[i] }));

  new Chart(cv.getContext('2d'), {
    type: 'scatter',
    data: {
      datasets: [
        { data: trend, showLine: true, borderColor: '#000', borderWidth: 1.3, pointRadius: 0 },
        { data: pts.map(p => ({ x: p[0], y: p[1] })), pointRadius: 3.5, pointBackgroundColor: DOT,
          pointBorderWidth: 0, clip: false }
      ]
    },
    options: {
      responsive: false,
      devicePixelRatio: 1,
      animation: false,
      events: [],
      layout: { padding: { left: 0, top: plotT[i], right: colW[col] - plotR[i], bottom: 0 } },
      plugins: {
        legend: { display: false },
        tooltip: { enabled: false },
        panelText: { title: titles[i], eq: eqTexts[i], r2: r2Texts[i], pos: eqPos[i] }
      },
      scales: {
        x: {
          type: 'linear', min: xMin[i], max: xMax[i],
          ticks: { stepSize: xStep[i], autoSkip: false, maxRotation: 0, padding: 6, color: TXT,
                   font: { family: FONT, size: 13 }, callback: v => String(v) },
          grid: { drawOnChartArea: false, drawTicks: true, tickLength: 5, color: AXIS },
          border: { color: AXIS },
          afterFit(s) { s.height = cellH - plotB[i]; s.paddingLeft = 0; s.paddingRight = 0; }
        },
        y: {
          type: 'linear', min: yMin[i], max: yMax[i],
          ticks: { stepSize: 1, autoSkip: false, padding: 3, color: TXT,
                   font: { family: FONT, size: 13 }, callback: v => String(v) },
          grid: { color: GRID, drawTicks: true, tickLength: 5 },
          border: { color: AXIS },
          afterFit(s) { s.width = plotL[i]; s.paddingTop = 0; s.paddingBottom = 0; }
        }
      }
    },
    plugins: [panelText]
  });
});

line(10, 12, 1215, 1);
rowY.slice(1).forEach(y => line(10, y, 1215, 1));
colX.forEach(x => line(x, 12, 1, 1371));
</script>
</body>
</html>
